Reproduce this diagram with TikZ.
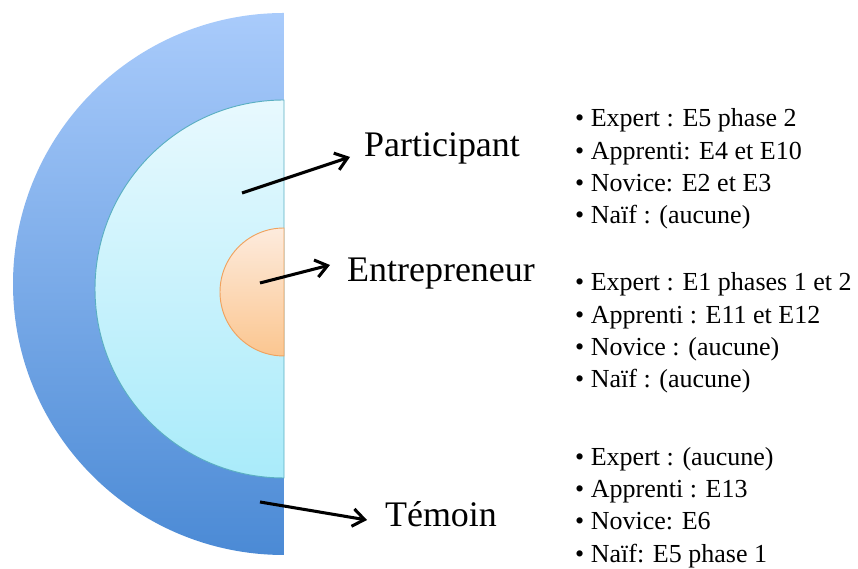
\documentclass[tikz,border=0pt]{standalone}
\usepackage{fontspec}
\setmainfont{Liberation Serif}
\usetikzlibrary{arrows.meta}

\definecolor{outertop}{HTML}{A9CBFB}
\definecolor{outerbot}{HTML}{4B8AD5}
\definecolor{midtop}{HTML}{E8F9FE}
\definecolor{midbot}{HTML}{A9EBFA}
\definecolor{midline}{HTML}{5AAFC2}
\definecolor{intop}{HTML}{FDEBDD}
\definecolor{inbot}{HTML}{FBC690}
\definecolor{inline}{HTML}{F0A25E}

\tikzset{
  ring/.style={top color=#1top, bottom color=#1bot},
  fleche/.style={line width=2.6pt, -{Straight Barb[length=10pt,width=15pt,line width=2.6pt]}},
  titre/.style={font=\fontsize{30.7}{34}\selectfont, inner sep=0pt},
  liste/.style={font=\fontsize{22.2}{27.6}\selectfont, align=left, anchor=west, inner sep=0pt}
}

\begin{document}
\begin{tikzpicture}[x=0.03cm,y=0.03cm]
\useasboundingbox (0,0) rectangle (858,569);

% demi-disques
\path[ring=outer] (284,556) arc[start angle=90, end angle=270, radius=271] -- cycle;
\path[ring=mid, draw=midline, line width=0.8pt] (284,469) arc[start angle=90, end angle=270, radius=189] -- cycle;
\path[ring=in, draw=inline, line width=0.8pt] (284,341) arc[start angle=90, end angle=270, radius=64] -- cycle;

% libelles
\node[titre] (participant) at (442,421) {Participant};
\node[titre] (entrepreneur) at (441,295) {Entrepreneur};
\node[titre] (temoin) at (441,55) {Témoin};

% fleches
\coordinate (pfrom) at (242,376);
\coordinate (pto) at (350,412);
\coordinate (efrom) at (260,286);
\coordinate (eto) at (330,304);
\coordinate (tfrom) at (260,67);
\coordinate (tto) at (367,49);
\draw[fleche] (pfrom) -- (pto);
\draw[fleche] (efrom) -- (eto);
\draw[fleche] (tfrom) -- (tto);

% listes
\node[liste] (plist) at (575,400) {• Expert : E5 phase 2\\• Apprenti: E4 et E10\\• Novice: E2 et E3\\• Naïf : (aucune)};
\node[liste] (elist) at (575,236) {• Expert : E1 phases 1 et 2\\• Apprenti : E11 et E12\\• Novice : (aucune)\\• Naïf : (aucune)};
\node[liste] (tlist) at (575,61.5) {• Expert : (aucune)\\• Apprenti : E13\\• Novice: E6\\• Naïf: E5 phase 1};
\end{tikzpicture}
\end{document}
